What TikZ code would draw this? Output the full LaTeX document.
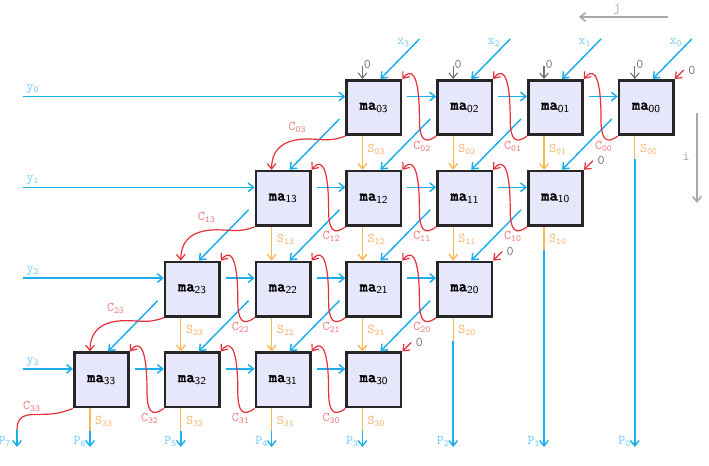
\documentclass[tikz,border=0pt]{standalone}
\usepackage{fontspec}
\newfontfamily\mattfont{lmmonolt10-bold.otf}[FakeBold=1.2]
\usetikzlibrary{arrows.meta,calc}
\definecolor{bl}{HTML}{1BAEEA}
\definecolor{bllab}{HTML}{74CCF4}
\definecolor{orl}{HTML}{F8B655}
\definecolor{orlab}{HTML}{F5B570}
\definecolor{rd}{HTML}{E5303A}
\definecolor{rdlab}{HTML}{EF7B7E}
\definecolor{boxfill}{HTML}{E7E7FB}
\definecolor{gr}{HTML}{A8A8A8}
\definecolor{zr}{HTML}{707070}
\begin{document}
\begin{tikzpicture}[x=0.75pt,y=-0.75pt,
  arr/.style={-{Straight Barb[length=4pt,width=6.5pt]}},
  bline/.style={draw=bl, line width=1.1pt},
  oline/.style={draw=orl, line width=1pt},
  rline/.style={draw=rd, line width=0.9pt},
  box/.style={draw=black!85, line width=2pt, fill=boxfill, minimum size=40.75pt, inner sep=0pt,
    font=\mattfont\fontsize{12}{12}\selectfont},
  lab/.style={inner sep=0pt, font=\ttfamily\fontsize{10}{11}\selectfont},
]
\useasboundingbox (0,0) rectangle (709,465);
\coordinate (Pbase) at (0,447);
% boxes
\foreach \i in {0,...,3}{
 \foreach \j in {0,...,3}{
  \pgfmathtruncatemacro\k{6-\i-\j}
  \node[box] (m\i\j) at ({101.5+90.8*\k},{107.5+90.8*\i}) {ma\textsubscript{\sffamily\mdseries\i\j}};
 }}
% y inputs
\foreach \i in {0,...,3}{
  \coordinate (yin\i) at (23,{96.5+90.8*\i});
  \draw[bline,arr] (yin\i) -- (yin\i -| m\i3.west);
  \node[lab,text=bllab] (yl\i) at ($(yin\i)+(10,-7)$) {y\textsubscript{\i}};
}
% row arrows
\foreach \i in {0,...,3}{ \foreach \j in {1,2,3}{ \pgfmathtruncatemacro\jm{\j-1}
  \draw[bline,arr] ($(m\i\j.north east)+(5,17.5)$) -- ($(m\i\jm.north west)+(0,17.5)$); }}
% x inputs and zero sums
\foreach \j in {0,...,3}{
 \coordinate (xin\j) at ($(m0\j.north west)+(74,-40)$);
 \draw[bline,arr] (xin\j) -- ($(m0\j.north west)+(35,0)$);
 \node[lab,text=bllab] (xl\j) at ($(xin\j)+(-16,4)$) {x\textsubscript{\j}};
 \coordinate (z\j) at ($(m0\j.north west)+(17,-13)$);
 \draw[arr, draw=zr, line width=0.8pt] (z\j) -- ($(m0\j.north west)+(17,0)$);
 \node[lab,text=zr] (zl\j) at ($(m0\j.north west)+(22,-15)$) {0};
}
% diagonals
\foreach \i in {0,1,2}{ \pgfmathtruncatemacro\ip{\i+1} \foreach \j in {0,...,3}{
 \draw[bline,arr] ($(m\i\j.north west)+(-6,40)$) -- ($(m\ip\j.north west)+(35,0)$); }}
% sums
\foreach \i in {0,...,3}{ \foreach \j in {0,...,3}{
 \pgfmathtruncatemacro\ip{\i+1}\pgfmathtruncatemacro\jm{\j-1}
 \node[lab,text=orlab] (sl\i\j) at ($(m\i\j.south west)+(31,13)$) {S\textsubscript{\i\j}};
 \ifnum\i<3 \ifnum\j>0
   \draw[oline,arr] ($(m\i\j.south west)+(17,0)$) -- ($(m\ip\jm.north west)+(17,0)$);
 \fi\fi
}}
% outputs
\foreach \i/\j/\p in {0/0/0,1/0/1,2/0/2,3/0/3,3/1/4,3/2/5,3/3/6}{
  \coordinate (so\p) at ($(m\i\j.south west)+(17,23)$);
  \draw[oline] ($(m\i\j.south west)+(17,0)$) -- (so\p);
  \coordinate (pe\p) at (so\p |- Pbase);
  \draw[bline,arr] (so\p) -- (pe\p);
  \node[lab,text=bllab] (pl\p) at ($(pe\p)+(-10,-6)$) {P\textsubscript{\p}};
}
% carries within rows
\foreach \i in {0,...,3}{ \foreach \j in {0,1,2}{ \pgfmathtruncatemacro\jp{\j+1}
 \draw[rline,arr] (m\i\j.south west) .. controls +(-12,9) and +(0,20) .. ($(m\i\jp.north east)+(17,40)$) .. controls +(0,-52) and +(7,-9) .. (m\i\jp.north east);
 \node[lab,text=rdlab] (cl\i\j) at ($(m\i\j.south west)+(-14,10)$) {C\textsubscript{\i\j}};
}}
% leftmost carries
\foreach \i in {0,1,2}{ \pgfmathtruncatemacro\ip{\i+1}
 \draw[rline,arr] (m\i3.south west) .. controls +(-15,6) and +(15,0) .. ($(m\i3.south west)+(-38,3)$) .. controls +(-22,0) and +(0,-22) .. ($(m\ip3.north west)+(17,0)$);
 \node[lab,text=rdlab] (cl\i3) at ($(m\i3.south west)+(-48,-9)$) {C\textsubscript{\i3}};
}
\coordinate (c7) at ($(m33.south west)+(-56,22)$);
\draw[rline] (m33.south west) .. controls +(-15,6) and +(15,0) .. ($(m33.south west)+(-38,6)$) .. controls +(-15,0) and +(0,-10) .. (c7);
\coordinate (pe7) at (c7 |- Pbase);
\draw[bline,arr] (c7) -- (pe7);
\node[lab,text=bllab] (pl7) at ($(pe7)+(-12,-6)$) {P\textsubscript{7}};
\node[lab,text=rdlab] (cl33) at ($(m33.south west)+(-41,-2)$) {C\textsubscript{33}};
% carry-in zeros
\foreach \i in {0,...,3}{
 \draw[rline,arr] ($(m\i0.north east)+(9,-9)$) -- (m\i0.north east);
 \node[lab,text=zr] (cz\i) at ($(m\i0.north east)+(17,-9)$) {0};
}
% axes
\coordinate (ja) at (668,17); \coordinate (jb) at (579,17);
\draw[draw=gr,line width=1.2pt,arr] (ja) -- (jb);
\node[lab,text=gr] (jl) at (617,9) {j};
\coordinate (ia) at (697,113); \coordinate (ib) at (697,203);
\draw[draw=gr,line width=1.2pt,arr] (ia) -- (ib);
\node[lab,text=gr] (il) at (686,156) {i};
\end{tikzpicture}
\end{document}
